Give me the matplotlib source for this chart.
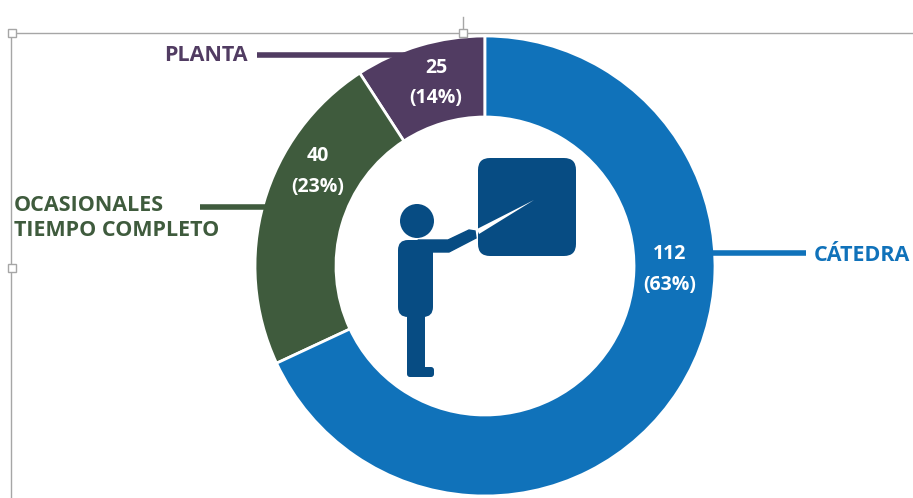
import matplotlib
matplotlib.use('Agg')
import matplotlib.pyplot as plt
from matplotlib.patches import Circle, FancyBboxPatch, Polygon, Rectangle

# datos de la grafica
categorias = ['PLANTA', 'OCASIONALES\nTIEMPO COMPLETO', 'CÁTEDRA']
valores = [25, 40, 112]
porcentajes = [14, 23, 63]
# el arco dibujado no sigue los valores: grados
arcos = [33, 82, 245]
colores = ['#513C62', '#3F5B3D', '#1072BA']

AZUL_ICONO = '#074C83'
W, H = 913, 498


def py(y):
    # y de la imagen (hacia abajo) a y del eje (hacia arriba)
    return H - y


plt.rcParams['font.family'] = ['Open Sans', 'DejaVu Sans']
fig = plt.figure(figsize=(W / 100, H / 100), dpi=100)
ax = fig.add_axes([0, 0, 1, 1])

# dona
ax.pie(arcos, colors=colores, startangle=90, counterclock=True, center=(485, py(266)), radius=230,
       wedgeprops=dict(width=81, edgecolor='white', linewidth=2, zorder=2))
ax.set_xlim(0, W)
ax.set_ylim(0, H)
ax.set_aspect('auto')

# lineas guia, del mismo color que su sector
ax.plot([257, 405], [py(55), py(55)], color=colores[0], lw=4, zorder=3, solid_capstyle='butt')
ax.plot([200, 270], [py(207), py(207)], color=colores[1], lw=4, zorder=3, solid_capstyle='butt')
ax.plot([710, 806], [py(253), py(253)], color=colores[2], lw=4, zorder=3, solid_capstyle='butt')

# etiquetas dentro de la dona
pos_datos = [(436, 68, 98), (318, 156, 187), (670, 254, 285)]
for (x, y1, y2), v, p in zip(pos_datos, valores, porcentajes):
    ax.text(x, py(y1), str(v), color='white', fontsize=14, fontweight='bold', ha='center', va='center', zorder=5)
    ax.text(x, py(y2), f'({p}%)', color='white', fontsize=14, fontweight='bold', ha='center', va='center', zorder=5)

# nombres de categoria
ax.text(164, py(55), categorias[0], color=colores[0], fontsize=15.5, fontweight='bold', va='center')
ax.text(14, py(218), categorias[1], color=colores[1], fontsize=15.5, fontweight='bold', va='center', linespacing=1.2)
ax.text(814, py(255), categorias[2], color=colores[2], fontsize=15.5, fontweight='bold', va='center')

# icono del profesor
ax.add_patch(FancyBboxPatch((490, py(244)), 74, 74, boxstyle='round,pad=12,rounding_size=12', fc=AZUL_ICONO, lw=0, zorder=3))
ax.add_patch(Circle((417, py(221)), 17, fc=AZUL_ICONO, lw=0, zorder=3))
ax.add_patch(FancyBboxPatch((408, py(307)), 15, 57, boxstyle='round,pad=10,rounding_size=10', fc=AZUL_ICONO, lw=0, zorder=3))
ax.add_patch(Rectangle((407, py(374)), 18, 62, fc=AZUL_ICONO, lw=0, zorder=3))
ax.add_patch(FancyBboxPatch((410, py(374)), 21, 4, boxstyle='round,pad=3,rounding_size=3', fc=AZUL_ICONO, lw=0, zorder=3))
ax.add_patch(Polygon([(418, py(240)), (448, py(240)), (469, py(230)), (475, py(231)), (476, py(238)),
                      (449, py(252)), (418, py(252))], closed=True, fc=AZUL_ICONO, ec=AZUL_ICONO, lw=1, zorder=3))
# puntero
ax.add_patch(Polygon([(477, py(229)), (534, py(200)), (479, py(234))], closed=True, fc='white', lw=0, zorder=4))

# marco de seleccion del objeto
gris = '#A6A6A6'
ax.plot([11, W], [py(33), py(33)], color=gris, lw=1, zorder=0)
ax.plot([11, 11], [py(33), 0], color=gris, lw=1, zorder=0)
ax.plot([463, 463], [py(17), py(33)], color=gris, lw=1, zorder=0)
for x, y in [(12, 33), (463, 33), (12, 268)]:
    ax.add_patch(Rectangle((x - 4, py(y) - 4), 8, 8, fc='white', ec=gris, lw=1, zorder=6))

ax.axis('off')
fig.savefig('out.png', dpi=100)
